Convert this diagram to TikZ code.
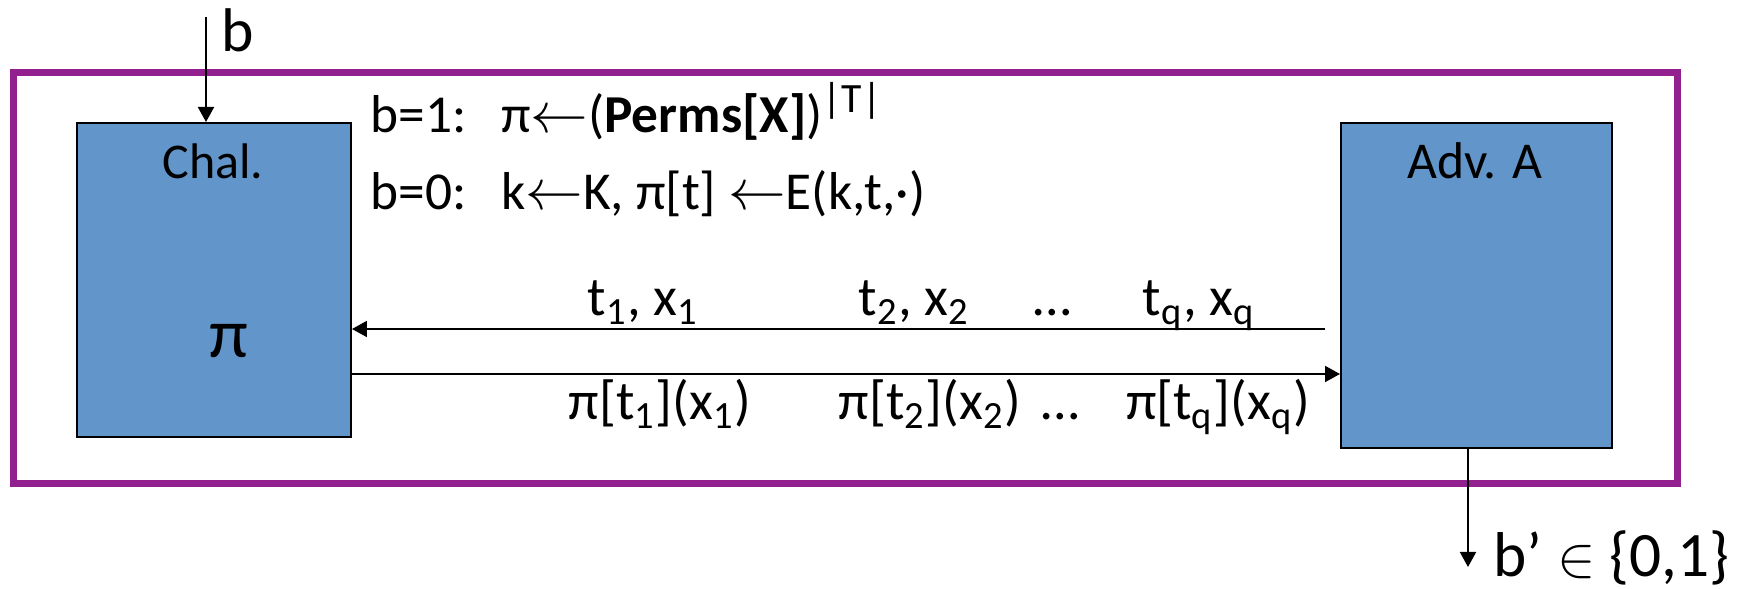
\documentclass[tikz,border=0pt]{standalone}
\usepackage{fontspec}
\setmainfont{Carlito}
\usepackage{xcolor}
\usepackage{tikz}
\usetikzlibrary{positioning,arrows.meta}
\definecolor{gamepurple}{RGB}{146,33,143}
\definecolor{partyblue}{RGB}{98,149,201}

\begin{document}
\begin{tikzpicture}[x=0.3pt, y=-0.3pt, party/.style={draw, line width=0.6pt, fill=partyblue, inner sep=0pt, anchor=north west}, msg/.style={-{Triangle[length=4.5pt, width=4.8pt]}, line width=0.6pt}, lbl/.style={font=\fontsize{16.5}{20}\selectfont, inner sep=0pt, anchor=base}, rule/.style={font=\fontsize{16}{19}\selectfont, inner sep=0pt, anchor=base west}]
\useasboundingbox (0,0) rectangle (1739,589);
\draw[gamepurple, line width=2.1pt] (13,73) rectangle (1677,484);
\node[party, minimum width=82.2pt, minimum height=94.2pt] (chal) at (76,122) {};
\node[party, minimum width=81.3pt, minimum height=97.5pt] (adv) at (1340,122) {};
\node[lbl, font=\fontsize{15}{18}\selectfont] (chalname) at (213,179) {Chal.};
\node[lbl, font=\fontsize{15.5}{18}\selectfont] (advname) at (1475,179) {Adv. A};
\node[lbl, font=\fontsize{21}{25}\selectfont] (perm) at (229,358) {π};
\node[rule] (rule1) at (370,133) {b=1:\hspace{0.65em}π$\leftarrow$(\textbf{Perms[X]})\textsuperscript{\fontsize{12.5}{14}\selectfont|T|}};
\node[rule] (rule0) at (370,210) {b=0:\hspace{0.65em}k$\leftarrow$K, π[t] $\leftarrow$E(k,t,·)};
\coordinate (bin) at (206,17);
\draw[msg] (bin) -- (bin |- chal.north);
\node[lbl, font=\fontsize{18.5}{22}\selectfont, anchor=base west] (bit) at (221,52) {b};
\coordinate (qstart) at (1325,329);
\draw[msg] (qstart) -- (qstart -| chal.east);
\node[lbl] (q1) at (643,316) {t\textsubscript{1}, x\textsubscript{1}};
\node[lbl] (q2) at (914,316) {t\textsubscript{2}, x\textsubscript{2}};
\node[lbl] (qdots) at (1052,316) {…};
\node[lbl] (qq) at (1199,316) {t\textsubscript{q}, x\textsubscript{q}};
\coordinate (ans) at (0,374);
\draw[msg] (chal.east |- ans) -- (adv.west |- ans);
\node[lbl] (a1) at (660,420) {π[t\textsubscript{1}](x\textsubscript{1})};
\node[lbl] (a2) at (930,420) {π[t\textsubscript{2}](x\textsubscript{2})};
\node[lbl] (adots) at (1060,420) {…};
\node[lbl] (aq) at (1218,420) {π[t\textsubscript{q}](x\textsubscript{q})};
\coordinate (bout) at (1468,567);
\draw[msg] (bout |- adv.south) -- (bout);
\node[lbl, font=\fontsize{19}{23}\selectfont, anchor=base west] (guess) at (1493,577) {b’ $\in$ \{0,1\}};
\end{tikzpicture}
\end{document}
